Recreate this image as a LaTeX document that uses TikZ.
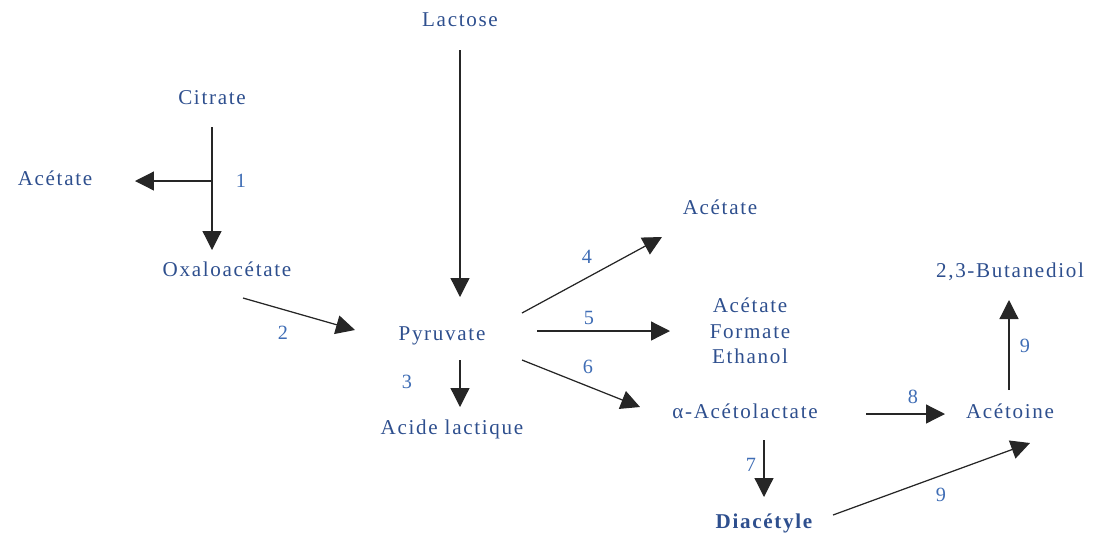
\documentclass[tikz,border=0pt]{standalone}
\usepackage{fontspec}
\setmainfont{Liberation Serif}[LetterSpace=8]
\usepackage{tikz}
\usetikzlibrary{arrows.meta,calc}
\definecolor{cblue}{HTML}{2E4F8E}
\definecolor{clight}{HTML}{3F6DB5}
\definecolor{cdark}{HTML}{262626}

\begin{document}
\begin{tikzpicture}[x=0.02cm,y=-0.02cm,
  lbl/.style={inner sep=0pt,font=\fontsize{12}{14.5}\selectfont,text=cblue,align=center},
  chem/.style={lbl,text height=8pt,text depth=2.5pt},
  num/.style={inner sep=0pt,font=\fontsize{11.5}{13}\selectfont,text=clight},
  arr/.style={-{Triangle[length=0.38cm,width=0.38cm]},draw=cdark,fill=cdark,line width=0.7pt}]
  \useasboundingbox (0,0) rectangle (1100,532);
  % metabolites
  \node[chem] (lac) at (460,22) {Lactose};
  \node[chem] (cit) at (212,100) {Citrate};
  \node[chem] (ace1) at (55,181) {Acétate};
  \node[chem] (oxa) at (227,272) {Oxaloacétate};
  \node[chem] (pyr) at (442,336) {Pyruvate};
  \node[chem] (acl) at (452,430) {Acide lactique};
  \node[chem] (ace2) at (720,210) {Acétate};
  \node[lbl] (afe) at (750,331) {Acétate\\Formate\\Ethanol};
  \node[chem] (aal) at (745,414) {α-Acétolactate};
  \node[chem] (act) at (1010,414) {Acétoine};
  \node[chem] (but) at (1010,273) {2,3-Butanediol};
  \node[chem,font=\fontsize{12}{14.5}\selectfont\bfseries] (dia) at (764,524) {\underline{Diacétyle}};
  % enzyme numbers
  \node[num] (n1) at (241,181) {1};
  \node[num] (n2) at (283,333) {2};
  \node[num] (n3) at (407,382) {3};
  \node[num] (n4) at (587,257) {4};
  \node[num] (n5) at (589,318) {5};
  \node[num] (n6) at (588,367) {6};
  \node[num] (n7) at (751,465) {7};
  \node[num] (n8) at (913,397) {8};
  \node[num] (n9a) at (1025,346) {9};
  \node[num] (n9b) at (941,495) {9};
  % reactions
  \draw[arr] ($(lac)+(0,28)$) -- ($(pyr)+(18,-39)$);
  \draw[arr] ($(cit)+(0,27)$) -- ($(oxa)+(-15,-22)$);
  \coordinate (b1) at ($(cit)+(0,81)$);
  \draw[arr] (b1) -- ($(ace1)+(80,0)$);
  \draw[arr] ($(oxa)+(16,26)$) -- ($(pyr)+(-87,-6)$);
  \draw[arr] ($(pyr)+(18,24)$) -- ($(acl)+(8,-23)$);
  \draw[arr] ($(pyr)+(80,-23)$) -- ($(ace2)+(-58,27)$);
  \draw[arr] ($(pyr)+(95,-5)$) -- ($(afe)+(-80,0)$);
  \draw[arr] ($(pyr)+(80,24)$) -- ($(aal)+(-105,-7)$);
  \draw[arr] ($(aal)+(121,0)$) -- ($(act)+(-65,0)$);
  \draw[arr] ($(act)+(-1,-24)$) -- ($(but)+(-1,27)$);
  \draw[arr] ($(aal)+(19,26)$) -- ($(dia)+(0,-27)$);
  \draw[arr] ($(dia)+(69,-9)$) -- ($(act)+(20,29)$);
\end{tikzpicture}
\end{document}
